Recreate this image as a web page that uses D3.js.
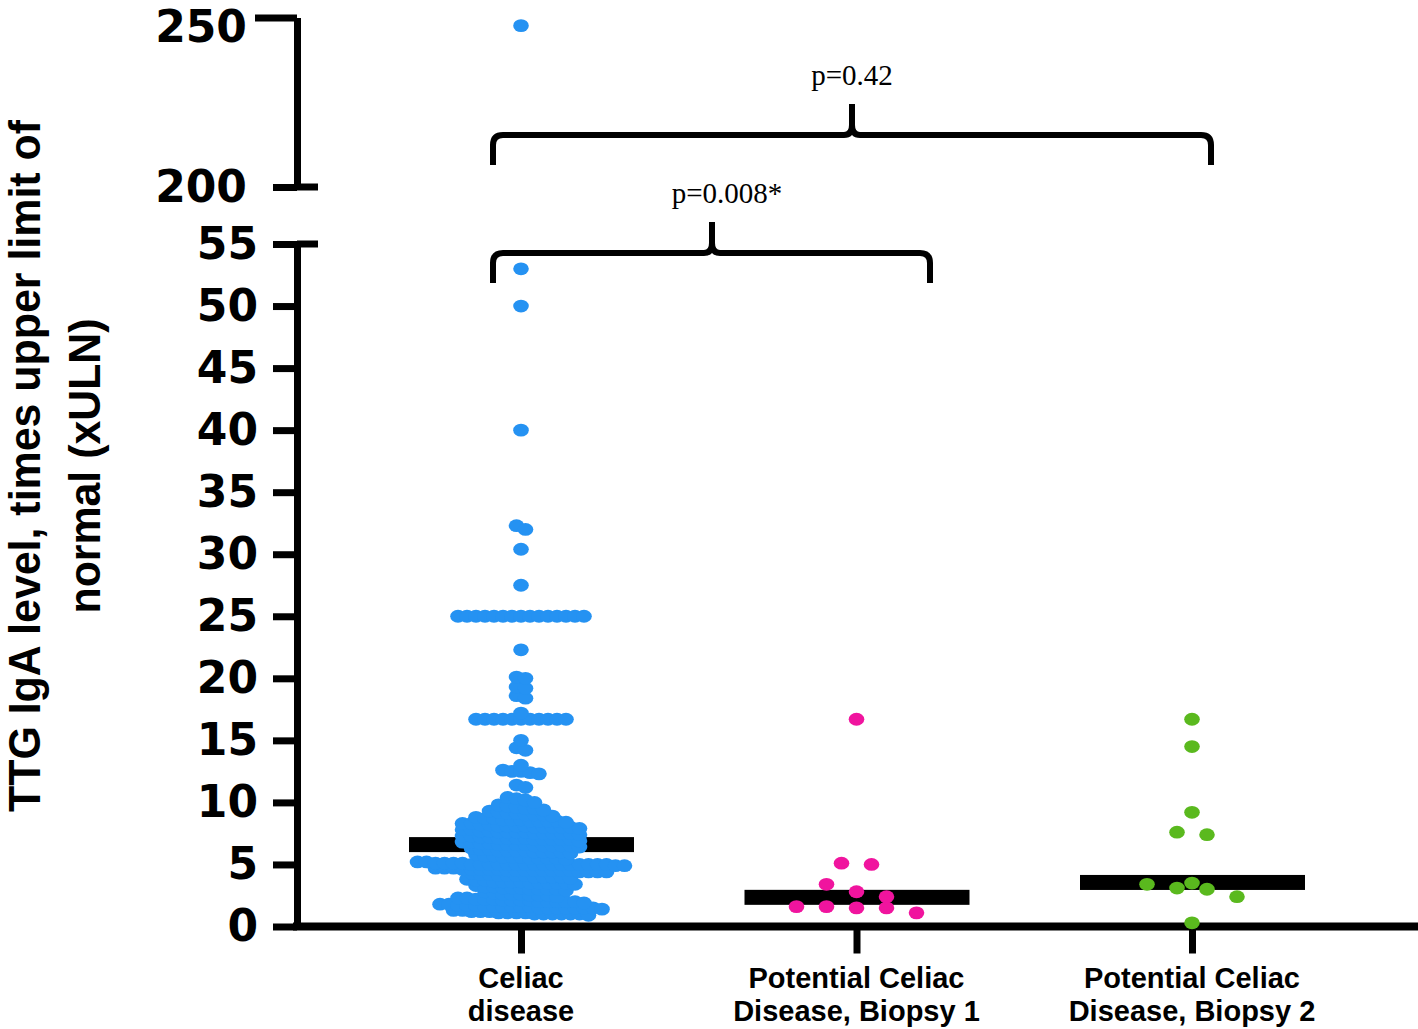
<!DOCTYPE html>
<html>
<head>
<meta charset="utf-8">
<script src="https://cdn.jsdelivr.net/npm/d3@7"></script>
<style>
  body { margin: 0; background: #fff; }
  svg { display: block; }
</style>
</head>
<body>
<svg id="chart" width="1418" height="1029"></svg>
<script>
// ---- data ----
const categories = ["Celiac disease", "Potential Celiac Disease, Biopsy 1", "Potential Celiac Disease, Biopsy 2"];
const categoryLines = [["Celiac", "disease"], ["Potential Celiac", "Disease, Biopsy 1"], ["Potential Celiac", "Disease, Biopsy 2"]];

const celiac = [
  0.9, 1.0, 1.0, 1.1, 1.0, 1.2, 1.1, 1.0, 1.3, 1.1, 1.2, 1.0, 1.1, 1.2, 1.0, 1.3,
  1.4, 1.5, 1.5, 1.6, 1.5, 1.7, 1.6, 1.5, 1.8, 1.6, 1.5, 1.7, 1.6, 1.5, 1.8, 1.6, 1.7, 1.5, 1.6,
  1.9, 2.0, 2.1, 2.0, 2.2, 2.1, 2.0, 2.3, 2.2, 2.1, 2.0, 2.2, 2.3, 2.1, 2.0,
  2.4, 2.5, 2.6, 2.5, 2.7, 2.6, 2.8, 2.5, 2.6,
  2.9, 3.0, 3.1, 3.0, 3.2, 3.1, 3.3, 3.0, 3.2, 3.1, 3.0,
  3.4, 3.5, 3.6, 3.5, 3.7, 3.6, 3.5, 3.8, 3.6, 3.5, 3.7, 3.6, 3.5,
  3.9, 4.0, 4.1, 4.0, 4.2, 4.1, 4.0, 4.3, 4.1, 4.2, 4.0, 4.1,
  4.4, 4.4, 4.5, 4.5, 4.6, 4.5, 4.7, 4.6, 4.5, 4.4, 4.6, 4.5, 4.7, 4.5, 4.6, 4.4, 4.5, 4.6, 4.5, 4.7,
  5.0, 5.0, 5.0, 4.9, 5.0, 5.1, 5.0, 5.0, 5.2, 5.0, 5.0, 5.1, 5.0, 5.0, 4.9, 5.0, 5.0, 5.1, 5.0, 5.0, 5.2, 5.0, 5.0, 5.1,
  5.4, 5.5, 5.6, 5.5, 5.7, 5.6, 5.5, 5.8, 5.6, 5.5, 5.7,
  5.9, 6.0, 6.1, 6.0, 6.2, 6.1, 6.0, 6.3, 6.1, 6.2, 6.0, 6.1,
  6.4, 6.5, 6.6, 6.5, 6.7, 6.6, 6.5, 6.8, 6.6, 6.5, 6.7, 6.6, 6.5, 6.8,
  6.9, 7.0, 7.1, 7.0, 7.2, 7.1, 7.0, 7.3, 7.1, 7.2, 7.0, 7.1, 7.3, 7.0,
  7.4, 7.5, 7.6, 7.5, 7.7, 7.6, 7.5, 7.8, 7.6, 7.7, 7.5, 7.6, 7.8, 7.5,
  7.9, 8.0, 8.1, 8.0, 8.2, 8.1, 8.0, 8.3, 8.1, 8.2, 8.0, 8.1, 8.3, 8.0,
  8.4, 8.5, 8.6, 8.5, 8.7, 8.6, 8.5, 8.8, 8.6, 8.7, 8.5,
  8.9, 9.0, 9.1, 9.0, 9.2, 9.1, 9.3, 9.0,
  9.4, 9.5, 9.7, 9.6, 9.8, 9.5,
  10.0, 10.2, 10.4, 10.3,
  11.2, 11.4,
  12.3, 12.4, 12.5, 12.5, 12.6,
  13.0, 14.2, 14.4, 15.0,
  16.7, 16.7, 16.7, 16.7, 16.7, 16.7, 16.7, 16.7, 16.7, 16.7, 16.7,
  17.2, 18.4, 18.6, 19.2, 19.3, 20.0, 20.1, 22.3,
  25, 25, 25, 25, 25, 25, 25, 25, 25, 25, 25, 25, 25, 25, 25,
  27.5, 30.4, 32.0, 32.3, 40, 50, 53, 247.6
];
const biopsy1 = [16.7, 5.1, 5.0, 3.4, 2.8, 2.4, 1.6, 1.6, 1.5, 1.5, 1.1];
const biopsy2 = [16.7, 14.5, 9.2, 7.6, 7.4, 3.5, 3.4, 3.1, 3.0, 2.4, 0.3];
const medians = [6.6, 2.35, 3.55];

const lowerTicks = [0, 5, 10, 15, 20, 25, 30, 35, 40, 45, 50, 55];
const upperTicks = [200, 250];
const colors = ["#2592f2", "#f0149e", "#5ab91e"];

const comparisons = [
  { label: "p=0.008*", from: 0, to: 1 },
  { label: "p=0.42", from: 0, to: 2 }
];

// ---- scales ----
const svg = d3.select("#chart");
const x = d3.scalePoint().domain(categories).range([521, 1192]);
const yLow = d3.scaleLinear().domain([0, 55]).range([926.5, 244]);
const yUp = d3.scaleLinear().domain([200, 250]).range([187, 17.5]);
const yv = v => v >= 200 ? yUp(v) : yLow(v);

const axisX = 297;
const sans = "'Liberation Sans', Arial, sans-serif";

// ---- y axes ----
const gLow = svg.append("g")
  .attr("transform", `translate(${axisX},0)`)
  .call(d3.axisLeft(yLow).tickValues(lowerTicks).tickSize(24).tickSizeOuter(0).tickPadding(15));
const gUp = svg.append("g")
  .attr("transform", `translate(${axisX},0)`)
  .call(d3.axisLeft(yUp).tickValues(upperTicks).tickSize(24).tickSizeOuter(0).tickPadding(26));

[gLow, gUp].forEach(g => {
  g.select(".domain").attr("stroke", "#000").attr("stroke-width", 7);
  g.selectAll(".tick line").attr("stroke", "#000").attr("stroke-width", 7);
  g.selectAll(".tick text")
    .attr("fill", "#000")
    .style("font-family", "'DejaVu Sans', sans-serif")
    .style("font-weight", "bold")
    .style("font-size", "44px");
});
gUp.selectAll(".tick").filter(d => d === 250).select("line").attr("x2", -42);
// top label kept inside the page edge
gUp.selectAll(".tick").filter(d => d === 250).select("text").attr("dy", "0.55em");

// break marks
svg.append("g").selectAll("line")
  .data([yLow(55), yUp(200)])
  .enter().append("line")
  .attr("x1", axisX).attr("x2", axisX + 21)
  .attr("y1", d => d).attr("y2", d => d)
  .attr("stroke", "#000").attr("stroke-width", 7);

// ---- x axis ----
svg.append("line")
  .attr("x1", 293).attr("x2", 1418)
  .attr("y1", yLow(0)).attr("y2", yLow(0))
  .attr("stroke", "#000").attr("stroke-width", 8);

const gX = svg.append("g")
  .attr("transform", `translate(0,${yLow(0)})`)
  .call(d3.axisBottom(x).tickSize(27).tickSizeOuter(0));
gX.select(".domain").remove();
gX.selectAll(".tick line").attr("stroke", "#000").attr("stroke-width", 7);
gX.selectAll(".tick text").remove();

svg.append("g").selectAll("text")
  .data(categories)
  .enter().append("text")
  .attr("text-anchor", "middle")
  .style("font-family", sans)
  .style("font-weight", "bold")
  .style("font-size", "29px")
  .each(function (d, i) {
    d3.select(this).selectAll("tspan")
      .data(categoryLines[i])
      .enter().append("tspan")
      .attr("x", x(d))
      .attr("y", (t, j) => 988 + j * 33)
      .text(t => t);
  });

// ---- y title ----
const titleLines = ["TTG IgA level, times upper limit of", "normal (xULN)"];
const titleLen = [692, 295];
svg.append("g").selectAll("text")
  .data(titleLines)
  .enter().append("text")
  .attr("transform", (d, i) => `translate(${40 + i * 60},466) rotate(-90)`)
  .attr("text-anchor", "middle")
  .attr("textLength", (d, i) => titleLen[i])
  .attr("lengthAdjust", "spacingAndGlyphs")
  .style("font-family", sans)
  .style("font-weight", "bold")
  .style("font-size", "44px")
  .text(d => d);

// ---- median bars ----
svg.append("g").selectAll("rect")
  .data(medians)
  .enter().append("rect")
  .attr("x", (d, i) => x(categories[i]) - 112)
  .attr("y", d => yLow(d) - 7.5)
  .attr("width", 225)
  .attr("height", 15)
  .attr("fill", "#000");

// ---- scatter (row layout like Prism) ----
function swarm(values, cx, spacing, rowH) {
  const sorted = values.slice().sort((a, b) => a - b);
  const rows = [];
  let cur = null;
  sorted.forEach(v => {
    const py = yv(v);
    if (!cur || cur.y0 - py > rowH) {
      cur = { y0: py, pts: [] };
      rows.push(cur);
    }
    cur.pts.push(v);
  });
  const out = [];
  rows.forEach(r => {
    r.pts.slice().reverse().forEach((v, i) => {
      out.push({ v: v, x: cx + (i - (r.pts.length - 1) / 2) * spacing, y: yv(v) });
    });
  });
  return out;
}

const groups = [
  swarm(celiac, x(categories[0]), 9, 6),
  swarm(biopsy1, x(categories[1]), 30, 13),
  swarm(biopsy2, x(categories[2]), 30, 13)
];

groups.forEach((pts, gi) => {
  svg.append("g")
    .selectAll("ellipse")
    .data(pts)
    .enter().append("ellipse")
    .attr("cx", d => d.x)
    .attr("cy", d => d.y)
    .attr("rx", 7.8)
    .attr("ry", 6.4)
    .attr("fill", colors[gi]);
});

// ---- significance braces ----
const braceSpec = [
  { x1: 493, x2: 930, xm: 712, yh: 253, yb: 283, yt: 222, tx: 727, ty: 203 },
  { x1: 493, x2: 1211, xm: 852, yh: 135, yb: 165, yt: 104, tx: 852, ty: 85 }
];

braceSpec.forEach((b, i) => {
  const r = 10;
  const p = d3.path();
  p.moveTo(b.x1, b.yb);
  p.lineTo(b.x1, b.yh + r);
  p.quadraticCurveTo(b.x1, b.yh, b.x1 + r, b.yh);
  p.lineTo(b.xm - 8, b.yh);
  p.quadraticCurveTo(b.xm, b.yh, b.xm, b.yh - 10);
  p.lineTo(b.xm, b.yt);
  p.moveTo(b.xm, b.yh - 10);
  p.quadraticCurveTo(b.xm, b.yh, b.xm + 8, b.yh);
  p.lineTo(b.x2 - r, b.yh);
  p.quadraticCurveTo(b.x2, b.yh, b.x2, b.yh + r);
  p.lineTo(b.x2, b.yb);
  svg.append("path")
    .attr("d", p.toString())
    .attr("fill", "none")
    .attr("stroke", "#000")
    .attr("stroke-width", 6)
    .attr("stroke-linejoin", "round");
  svg.append("text")
    .attr("x", b.tx)
    .attr("y", b.ty)
    .attr("text-anchor", "middle")
    .style("font-family", "'Liberation Serif', 'Times New Roman', serif")
    .style("font-size", "29px")
    .text(comparisons[i].label);
});
</script>
</body>
</html>
